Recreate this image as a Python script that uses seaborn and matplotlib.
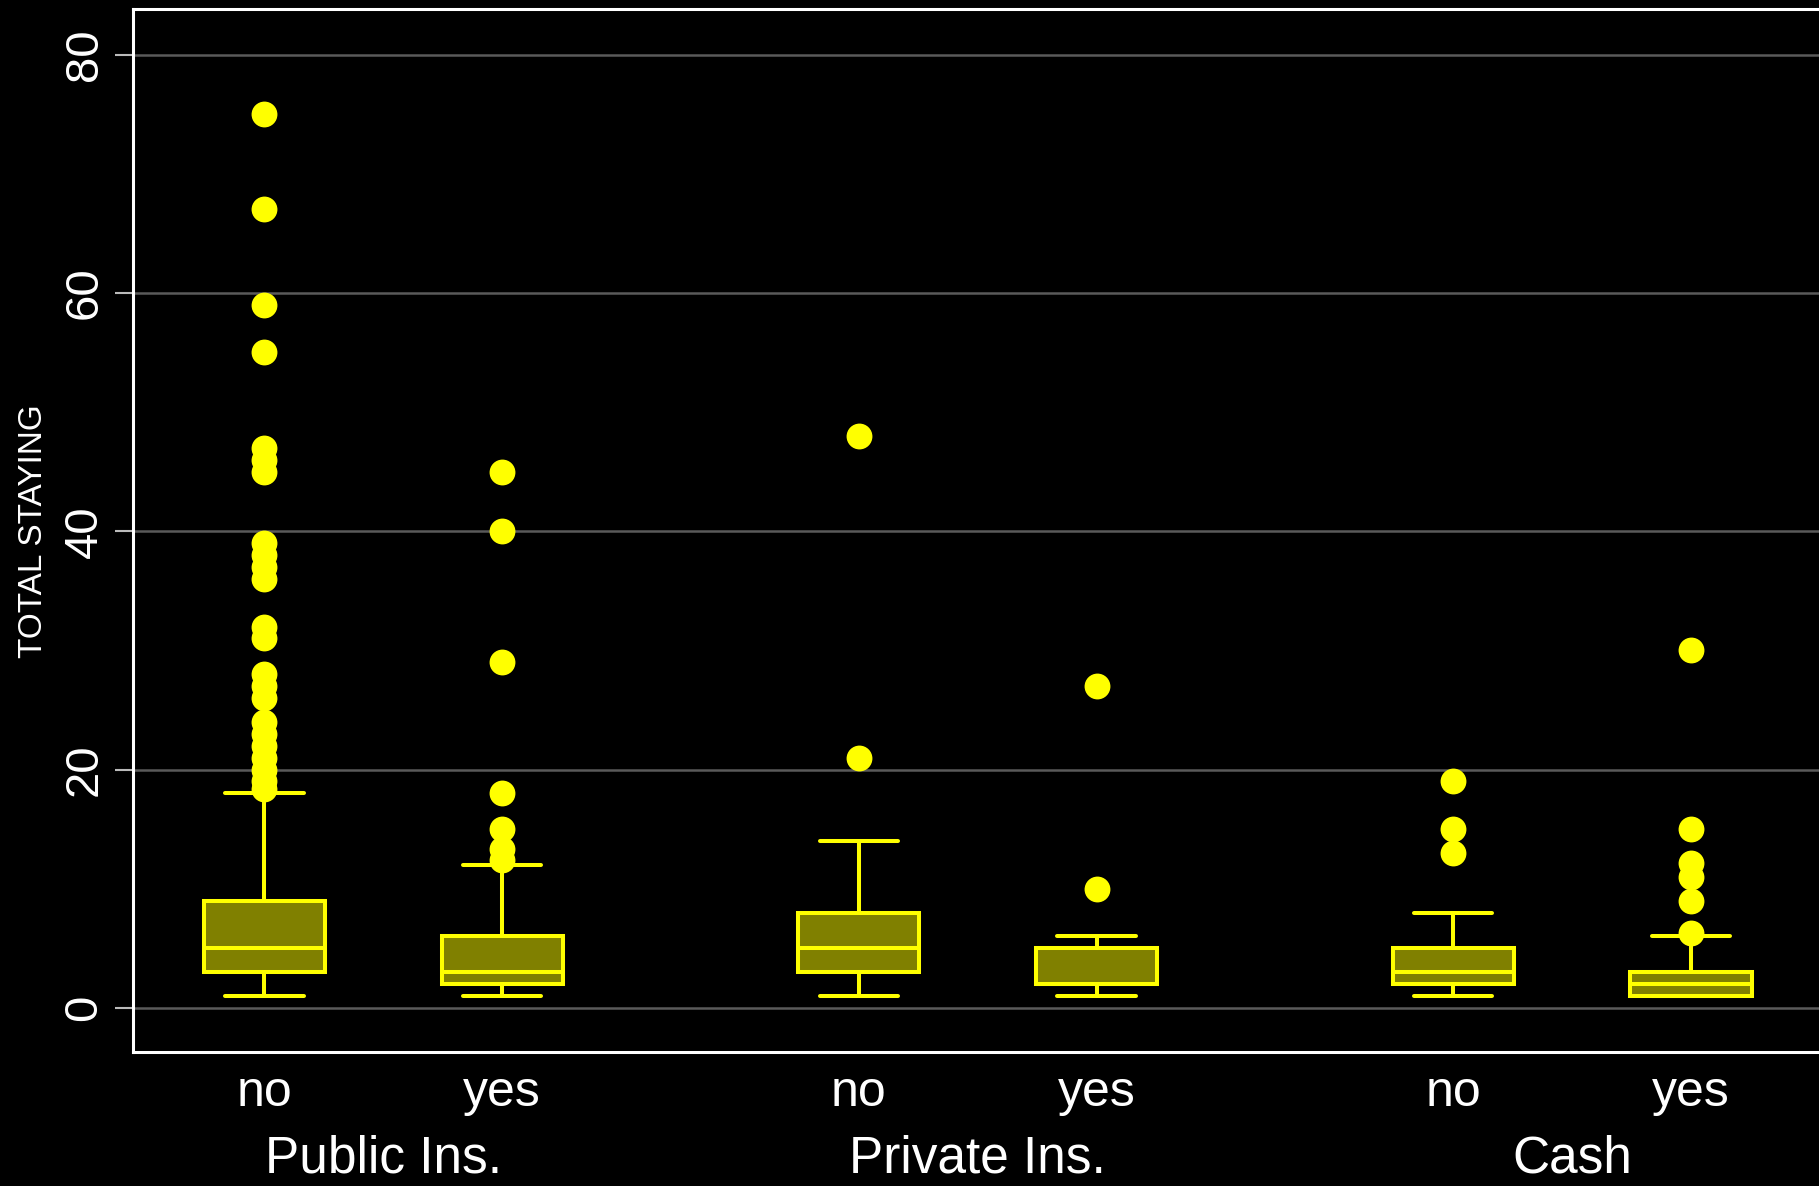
import numpy as np
import pandas as pd
import matplotlib
matplotlib.use("Agg")
import matplotlib.pyplot as plt
import matplotlib.transforms as mtransforms
import seaborn as sns

# Total staying, tabulated as value -> number of cases, plus the single far cases
groups = ["Public Ins.", "Private Ins.", "Cash"]
answers = ["no", "yes"]

public_no_values = [1, 2, 3, 4, 5, 6, 7, 8, 9, 10, 11, 12, 13, 14, 15, 16, 17, 18]
public_no_counts = [9, 14, 16, 16, 20, 10, 8, 7, 9, 3, 2, 2, 1, 1, 1, 1, 1, 1]
public_no_far = [18.4, 19, 20, 21, 22, 23, 24, 26, 27, 28, 31, 32,
                 36, 37, 38, 39, 45, 46, 47, 55, 59, 67, 75]

public_yes_values = [1, 2, 3, 4, 5, 6, 8, 10, 12]
public_yes_counts = [4, 8, 10, 4, 2, 3, 1, 1, 1]
public_yes_far = [12.4, 13.3, 15, 18, 29, 40, 45]

private_no_values = [1, 2, 3, 4, 5, 6, 7, 8, 10, 12, 14]
private_no_counts = [2, 2, 3, 2, 3, 2, 1, 1, 1, 1, 1]
private_no_far = [21, 48]

private_yes_values = [1, 2, 3, 4, 5, 6]
private_yes_counts = [2, 5, 1, 1, 1, 1]
private_yes_far = [10, 27]

cash_no_values = [1, 2, 3, 4, 5, 8]
cash_no_counts = [2, 4, 4, 1, 2, 1]
cash_no_far = [13, 15, 19]

cash_yes_values = [1, 2, 3, 6]
cash_yes_counts = [8, 7, 7, 1]
cash_yes_far = [6.3, 9, 11, 12.2, 15, 30]

y_ticks = [0, 20, 40, 60, 80]

tables = {
    ("Public Ins.", "no"): (public_no_values, public_no_counts, public_no_far),
    ("Public Ins.", "yes"): (public_yes_values, public_yes_counts, public_yes_far),
    ("Private Ins.", "no"): (private_no_values, private_no_counts, private_no_far),
    ("Private Ins.", "yes"): (private_yes_values, private_yes_counts, private_yes_far),
    ("Cash", "no"): (cash_no_values, cash_no_counts, cash_no_far),
    ("Cash", "yes"): (cash_yes_values, cash_yes_counts, cash_yes_far),
}

# layout: two boxes per payer, with a wider gap between payers
GROUP_STEP = 2.5
frames = []
tick_pos, tick_lab = [], []
for gi, grp in enumerate(groups):
    for ai, ans in enumerate(answers):
        vals, cnts, far = tables[(grp, ans)]
        stay = np.concatenate([np.repeat(vals, cnts), np.asarray(far, float)])
        pos = gi * GROUP_STEP + ai
        frames.append(pd.DataFrame({"group": grp, "answer": ans,
                                    "pos": pos, "stay": stay}))
        tick_pos.append(pos)
        tick_lab.append(ans)
df = pd.concat(frames, ignore_index=True)

sns.set_theme(style="ticks")
plt.rcParams["font.family"] = ["Liberation Sans", "DejaVu Sans"]

YELLOW = "#ffff00"
OLIVE = "#808000"

fig = plt.figure(figsize=(18.19, 11.86), dpi=100, facecolor="black")
ax = fig.add_axes([0.0731, 0.1130, 0.9288, 0.8792])
ax.set_facecolor("black")

sns.boxplot(
    data=df, x="pos", y="stay", native_scale=True, ax=ax,
    width=0.51, color=OLIVE, linecolor=YELLOW, saturation=1,
    linewidth=2.9, fliersize=16, capwidths=0.33,
    flierprops=dict(marker="o", markerfacecolor=YELLOW,
                    markeredgecolor=YELLOW, markeredgewidth=2.6),
)

ax.set_xlim(-0.553, 6.553)
ax.set_ylim(-3.7, 83.8)

ax.set_axisbelow(True)
ax.yaxis.grid(True, color="#5a5a5a", linewidth=1.8)
ax.xaxis.grid(False)

ax.set_yticks(y_ticks)
ax.tick_params(axis="y", length=13, width=1.5, color="#bbbbbb",
               labelcolor="white", labelsize=34, labelrotation=90, pad=6)
for lbl in ax.get_yticklabels():
    lbl.set_va("center")

ax.set_xticks(tick_pos, labels=tick_lab)
ax.tick_params(axis="x", length=0, labelcolor="white", labelsize=36, pad=13)

for side in ["left", "top", "bottom"]:
    ax.spines[side].set_color("white")
    ax.spines[side].set_linewidth(2.2)
ax.spines["right"].set_visible(False)

ax.set_xlabel("")
ax.set_ylabel("")

# payer names under each pair of boxes
trans = mtransforms.blended_transform_factory(ax.transData, fig.transFigure)
for gi, grp in enumerate(groups):
    centre = np.mean(tick_pos[2 * gi:2 * gi + 2])
    ax.text(centre, 0.002, grp, transform=trans, ha="center",
            va="bottom", fontsize=37, color="white")

fig.text(33 / 1819, 1 - 531 / 1186, "TOTAL STAYING", rotation=90,
         ha="center", va="center", fontsize=24, color="white")

fig.savefig("out.png", dpi=100, facecolor="black")
